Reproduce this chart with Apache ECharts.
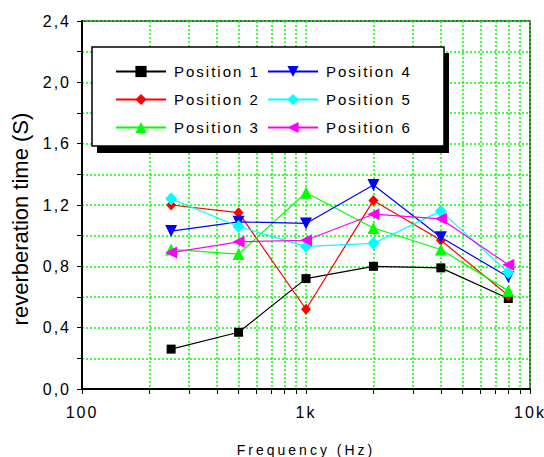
<!DOCTYPE html>
<html>
<head>
<meta charset="utf-8">
<title>Reverberation time</title>
<script src="https://cdn.jsdelivr.net/npm/echarts@6/dist/echarts.min.js"></script>
<style>
  html, body { margin: 0; padding: 0; background: #fff; }
  #chart { width: 544px; height: 457px; }
  /* wide tracking on the labels, tighter on the rotated axis title */
  #chart svg text { letter-spacing: 2px; }
  #chart svg text[style*="14px"] { letter-spacing: 3px; }
  #chart svg text[style*="22px"] { letter-spacing: 0; }
</style>
</head>
<body>
<div id="chart"></div>
<script>
// Octave-band centre frequencies (Hz)
const freqs = [250, 500, 1000, 2000, 4000, 8000];

// Reverberation time (s) at each measuring position
const position1 = [0.26, 0.37, 0.72, 0.80, 0.79, 0.59];
const position2 = [1.20, 1.15, 0.52, 1.23, 0.97, 0.61];
const position3 = [0.91, 0.88, 1.28, 1.05, 0.91, 0.64];
const position4 = [1.03, 1.09, 1.08, 1.33, 0.99, 0.73];
const position5 = [1.24, 1.06, 0.93, 0.95, 1.16, 0.76];
const position6 = [0.89, 0.96, 0.97, 1.14, 1.11, 0.81];

const seriesNames = ['Position 1', 'Position 2', 'Position 3', 'Position 4', 'Position 5', 'Position 6'];

// Axis ticks and labels
const xTickValues = [100, 200, 300, 400, 500, 600, 700, 800, 900,
                     1000, 2000, 3000, 4000, 5000, 6000, 7000, 8000, 9000, 10000];
const xLabelValues = [100, 1000, 10000];
const xLabelTexts = ['100', '1k', '10k'];
const yLabelValues = [0, 0.4, 0.8, 1.2, 1.6, 2.0, 2.4];

const FONT = '"Liberation Sans", Arial, sans-serif';
const GRID_GREEN = '#00ff00';

function pairs(values) {
  return freqs.map((f, i) => [f, values[i]]);
}

const seriesStyles = [
  { data: position1, color: '#000000', symbol: 'rect', symbolSize: 9, symbolRotate: 0 },
  { data: position2, color: '#ff0000', symbol: 'diamond', symbolSize: [10, 11], symbolRotate: 0 },
  { data: position3, color: '#00ff00', symbol: 'triangle', symbolSize: 12, symbolRotate: 0 },
  { data: position4, color: '#0000ff', symbol: 'triangle', symbolSize: 12, symbolRotate: 180 },
  { data: position5, color: '#00ffff', symbol: 'diamond', symbolSize: [12, 13], symbolRotate: 0 },
  { data: position6, color: '#ff00ff', symbol: 'triangle', symbolSize: 12, symbolRotate: 90 }
];

const series = seriesStyles.map((s, i) => ({
  name: seriesNames[i],
  type: 'line',
  data: pairs(s.data),
  symbol: s.symbol,
  symbolSize: s.symbolSize,
  symbolRotate: s.symbolRotate,
  showAllSymbol: true,
  animation: false,
  lineStyle: { color: s.color, width: 1.2 },
  itemStyle: { color: s.color, borderWidth: 0 },
  emphasis: { disabled: true }
}));

const legendCommon = {
  orient: 'vertical',
  padding: 0,
  itemWidth: 50,
  itemHeight: 14,
  itemGap: 13,
  selectedMode: false,
  backgroundColor: 'transparent',
  z: 5,
  textStyle: {
    fontFamily: FONT,
    fontSize: 15,
    color: '#000',
    lineHeight: 14,
    padding: [0, 0, 0, 3]
  }
};

const chart = echarts.init(document.getElementById('chart'), null, { renderer: 'svg' });

chart.setOption({
  animation: false,
  backgroundColor: '#fff',
  grid: {
    left: 82, right: 14, top: 21, bottom: 68,
    outerBoundsMode: 'none',
    show: true,
    borderColor: '#222',
    borderWidth: 1.5,
    backgroundColor: 'transparent'
  },
  legend: [
    Object.assign({}, legendCommon, { left: 115, top: 64, data: seriesNames.slice(0, 3) }),
    Object.assign({}, legendCommon, { left: 267, top: 64, data: seriesNames.slice(3, 6) })
  ],
  xAxis: {
    type: 'log',
    logBase: 10,
    min: 100,
    max: 10000,
    name: 'Frequency (Hz)',
    nameLocation: 'middle',
    nameGap: 54,
    nameTextStyle: { fontFamily: FONT, fontSize: 14, color: '#000' },
    axisLine: { lineStyle: { color: '#000', width: 2 } },
    axisTick: {
      inside: false,
      length: 5,
      customValues: xTickValues,
      lineStyle: { color: '#000', width: 1 }
    },
    axisLabel: {
      customValues: xLabelValues,
      formatter: v => xLabelTexts[xLabelValues.indexOf(Math.round(v))] || '',
      margin: 15,
      fontFamily: FONT,
      fontSize: 16,
      color: '#000'
    },
    splitLine: {
      show: true,
      lineStyle: { color: GRID_GREEN, type: [2, 2], width: 1.5 }
    },
    minorTick: { show: false },
    minorSplitLine: { show: false }
  },
  yAxis: {
    type: 'value',
    min: 0,
    max: 2.4,
    interval: 0.2,
    axisLine: { show: true, lineStyle: { color: '#000', width: 2 } },
    axisTick: { show: true, inside: false, length: 5, lineStyle: { color: '#000', width: 1 } },
    axisLabel: {
      customValues: yLabelValues,
      formatter: v => v.toFixed(1).replace('.', ','),
      margin: 11,
      fontFamily: FONT,
      fontSize: 16,
      color: '#000'
    },
    splitLine: {
      show: true,
      lineStyle: { color: GRID_GREEN, type: [2, 2], width: 1.5 }
    }
  },
  graphic: [
    // legend frame with its solid drop shadow
    {
      type: 'rect', z: 3, silent: true,
      shape: { x: 97, y: 53, width: 352, height: 100 },
      style: { fill: '#000' }
    },
    {
      type: 'rect', z: 4, silent: true,
      shape: { x: 92, y: 47, width: 352, height: 99 },
      style: { fill: '#fff', stroke: '#000', lineWidth: 1.5 }
    },
    {
      type: 'text', z: 4, silent: true,
      x: 20, y: 219, rotation: Math.PI / 2,
      style: {
        text: 'reverberation time (S)',
        font: '22px ' + FONT,
        fill: '#000',
        align: 'center',
        verticalAlign: 'middle'
      }
    }
  ],
  series: series
});
</script>
</body>
</html>
